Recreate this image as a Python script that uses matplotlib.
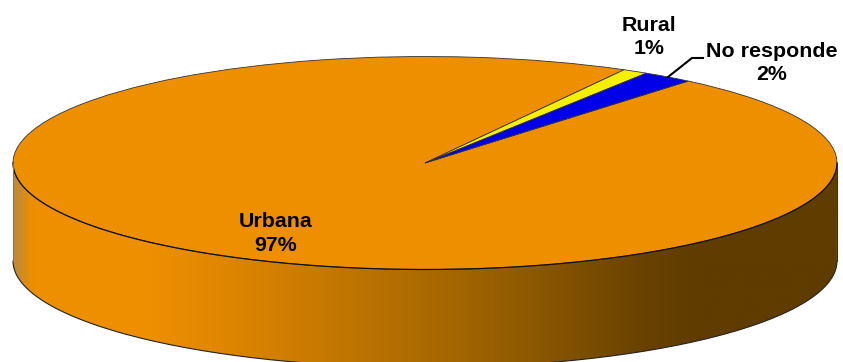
import numpy as np
import matplotlib
matplotlib.use("Agg")
import matplotlib.pyplot as plt
from matplotlib.colors import LinearSegmentedColormap, to_rgb
from matplotlib.patches import PathPatch
from matplotlib.path import Path

labels = ["Urbana", "Rural", "No responde"]
shares = [97, 1, 2]
colors = ["#EE8F00", "#F5F000", "#0000E6"]

# side wall shading, left to right across the disc
shade_pos = [0.0, 0.02, 0.166, 0.288, 0.409, 0.53, 0.652, 0.773, 0.834, 1.0]
shade_col = ["#C08A35", "#EE8F00", "#EE8F00", "#D98200", "#BF7500",
             "#A56700", "#875500", "#674100", "#5F3C00", "#5F3C00"]

W, H = 843, 362
CX, CY, RX, RY = 425, 163, 412, 106.5
DEPTH = 98


def px(x, y):
    # figure pixels to pie units
    return (x - CX) / RX, (CY - y) / RY


plt.rcParams["font.family"] = ["Liberation Sans", "DejaVu Sans"]
fig = plt.figure(figsize=(W / 100, H / 100), dpi=100)
ax = fig.add_axes([0, 0, 1, 1])

ax.pie(shares, colors=colors, startangle=50.3, counterclock=False, radius=1,
       wedgeprops=dict(edgecolor="#333333", linewidth=0.6))
ax.set_aspect("auto")

# side wall: front half of the rim pushed down by the depth
d = DEPTH / RY
t = np.linspace(np.pi, 2 * np.pi, 200)
rim = np.column_stack([np.cos(t), np.sin(t)])
low = rim - [0, d]
wall = np.vstack([rim, low[::-1], rim[:1]])
clip = PathPatch(Path(wall), transform=ax.transData, fc="none", ec="none")
ax.add_patch(clip)

cmap = LinearSegmentedColormap.from_list("side", list(zip(shade_pos, [to_rgb(c) for c in shade_col])))
im = ax.imshow(np.linspace(0, 1, 400)[None, :], cmap=cmap, aspect="auto",
               extent=(-1, 1, -1 - d, 0), zorder=0)
im.set_clip_path(clip)

ax.plot(low[:, 0], low[:, 1], color="#222222", lw=0.8)
ax.plot(rim[:, 0], rim[:, 1], color="#111111", lw=0.9)
ax.plot([-1, -1], [0, -d], color="#777777", lw=0.8)
ax.plot([1, 1], [0, -d], color="#333333", lw=0.8)

# leader line for the smallest label
lx, ly = zip(px(668, 77), px(692, 58), px(703, 58))
ax.plot(lx, ly, color="black", lw=1.5, solid_joinstyle="miter")

label_xy = {"Urbana": (275.5, 233.5), "Rural": (649, 37), "No responde": (771.5, 63)}
for name, val in zip(labels, shares):
    x, y = px(*label_xy[name])
    ax.text(x, y, f"{name}\n{val}%", ha="center", va="center", fontsize=15.4,
            fontweight="bold", color="black", linespacing=1.33)

ax.set_xlim(px(0, 0)[0], px(W, 0)[0])
ax.set_ylim(px(0, H)[1], px(0, 0)[1])
ax.axis("off")

fig.savefig("out.png", dpi=100)
